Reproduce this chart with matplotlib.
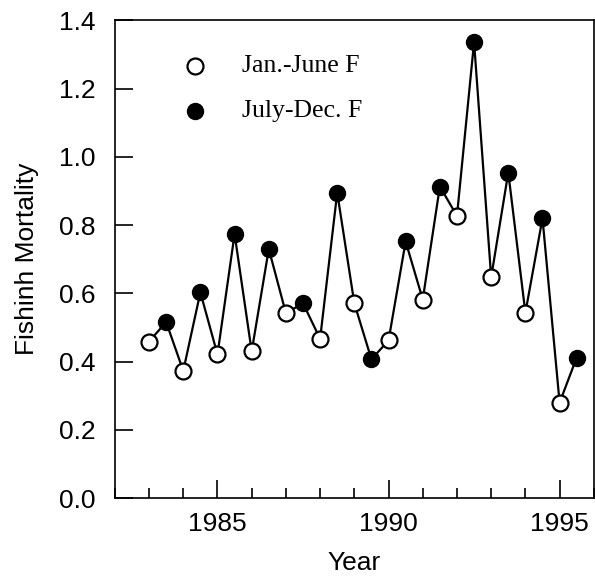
import matplotlib
matplotlib.use("Agg")
import matplotlib.pyplot as plt
from matplotlib.ticker import MultipleLocator
import numpy as np

years_jan = [1983, 1984, 1985, 1986, 1987, 1988, 1989, 1990, 1991, 1992, 1993, 1994, 1995]
f_jan = [0.459, 0.373, 0.421, 0.430, 0.542, 0.467, 0.571, 0.462, 0.582, 0.827, 0.647, 0.543, 0.280]
years_jul = [1983.5, 1984.5, 1985.5, 1986.5, 1987.5, 1988.5, 1989.5, 1990.5, 1991.5, 1992.5, 1993.5, 1994.5, 1995.5]
f_jul = [0.516, 0.603, 0.774, 0.730, 0.571, 0.895, 0.407, 0.752, 0.913, 1.336, 0.954, 0.820, 0.412]

plt.rcParams['font.family'] = ['Liberation Sans', 'DejaVu Sans']

fig = plt.figure(figsize=(5.95, 5.78), dpi=100)
ax = fig.add_axes([0.193, 0.138, 0.805, 0.827])

x_all = []
y_all = []
for a, b, c, d in zip(years_jan, f_jan, years_jul, f_jul):
    x_all += [a, c]
    y_all += [b, d]
ax.plot(x_all, y_all, color='black', lw=1.6, zorder=1)
ax.plot(years_jan, f_jan, 'o', mfc='white', mec='black', mew=1.6, ms=11.5, zorder=2, linestyle='none')
ax.plot(years_jul, f_jul, 'o', mfc='black', mec='black', ms=11.5, zorder=2, linestyle='none')

# legend drawn as markers + text
ax.plot([1984.33], [1.265], 'o', mfc='white', mec='black', mew=1.6, ms=11.5, linestyle='none')
ax.plot([1984.33], [1.134], 'o', mfc='black', mec='black', ms=11.5, linestyle='none')
ax.text(1985.72, 1.265, 'Jan.-June F', family=['Liberation Serif'], fontsize=18.5, va='center')
ax.text(1985.72, 1.134, 'July-Dec. F', family=['Liberation Serif'], fontsize=18.5, va='center')

ax.set_xlim(1982.0, 1996.0)
ax.set_ylim(0.0, 1.4)
ax.xaxis.set_major_locator(MultipleLocator(5))
ax.xaxis.set_minor_locator(MultipleLocator(1))
ax.yaxis.set_major_locator(MultipleLocator(0.2))
ax.yaxis.set_major_formatter(matplotlib.ticker.FormatStrFormatter('%.1f'))
ax.tick_params(axis='both', which='major', direction='in', length=13, width=1.2, labelsize=19, pad=10)
ax.tick_params(axis='x', which='minor', direction='in', length=7, width=1.2)
ax.tick_params(axis='y', which='major', pad=14)
for s in ax.spines.values():
    s.set_linewidth(1.2)

ax.set_xlabel('Year', fontsize=19, labelpad=11)
ax.set_ylabel('Fishinh Mortality', fontsize=19, labelpad=14)

fig.savefig('out.png', dpi=100)
